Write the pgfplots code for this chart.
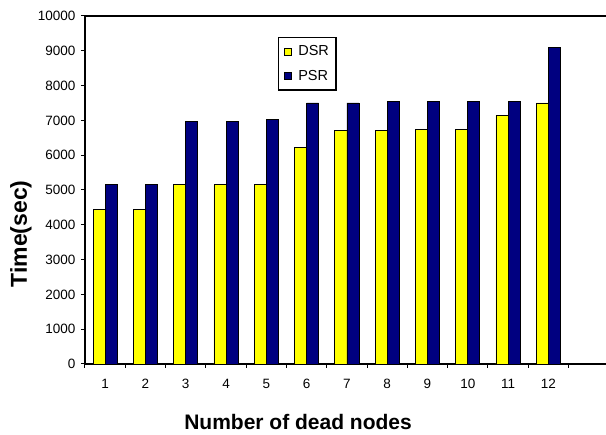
\documentclass[border=0pt]{standalone}
\usepackage{fontspec}
\setmainfont{Liberation Sans}
\usepackage{pgfplots}
\pgfplotsset{compat=1.18}
\definecolor{dsr}{RGB}{255,255,0}
\definecolor{psr}{RGB}{0,0,128}
\begin{document}
\begin{tikzpicture}
\begin{axis}[
  at={(0pt,0pt)}, anchor=south west,
  scale only axis, width=521pt, height=348pt,
  xmin=0.5, xmax=13.43, ymin=0, ymax=10000,
  axis x line=box, axis y line=left,
  axis line style={-, line width=1.2pt},
  xtick={1,...,12},
  minor xtick={0.5,1.5,...,12.5},
  major x tick style={draw=none},
  xtick pos=bottom,
  ytick={0,1000,...,10000},
  tick align=outside,
  tick style={black, line width=1pt},
  major tick length=4pt, minor tick length=4pt,
  scaled y ticks=false,
  /pgf/number format/.cd, 1000 sep={}, assume math mode=true,
  /pgfplots/.cd,
  tick label style={font=\fontsize{13.5}{15}\selectfont},
  xticklabel style={anchor=center, yshift=-16pt},
  yticklabel style={anchor=east, xshift=-2pt},
  xlabel={Number of dead nodes},
  xlabel style={font=\bfseries\fontsize{21}{24}\selectfont, at={(axis description cs:0.409,0)}, anchor=center, yshift=-58pt},
  ylabel={Time(sec)},
  ylabel style={font=\bfseries\fontsize{23}{26}\selectfont, at={(axis description cs:-0.1228,0.374)}, anchor=center},
  legend style={at={(rel axis cs:0.370,0.94)}, anchor=north west, draw=black, line width=1.5pt,
    font=\fontsize{14.5}{16}\selectfont, row sep=9pt, column sep=5pt, inner xsep=5pt, inner ysep=6pt},
  legend cell align=left,
  legend image code/.code={\draw[#1, line width=0.8pt] (0pt,-3.5pt) rectangle (7pt,3.5pt);},
]
\addplot[ybar, bar width=0.3, bar shift=-0.15, fill=dsr, draw=black, line width=0.8pt] coordinates {
(1,4450) (2,4450) (3,5150) (4,5150) (5,5150) (6,6230) (7,6700) (8,6700) (9,6750) (10,6750) (11,7150) (12,7500)};
\addlegendentry{DSR}
\addplot[ybar, bar width=0.3, bar shift=0.15, fill=psr, draw=black, line width=0.8pt] coordinates {
(1,5150) (2,5150) (3,6980) (4,6980) (5,7030) (6,7500) (7,7500) (8,7550) (9,7550) (10,7550) (11,7550) (12,9100)};
\addlegendentry{PSR}
\end{axis}
\pgfresetboundingbox
\useasboundingbox (-85pt,-71pt) rectangle (521pt,364pt);
\end{tikzpicture}
\end{document}
